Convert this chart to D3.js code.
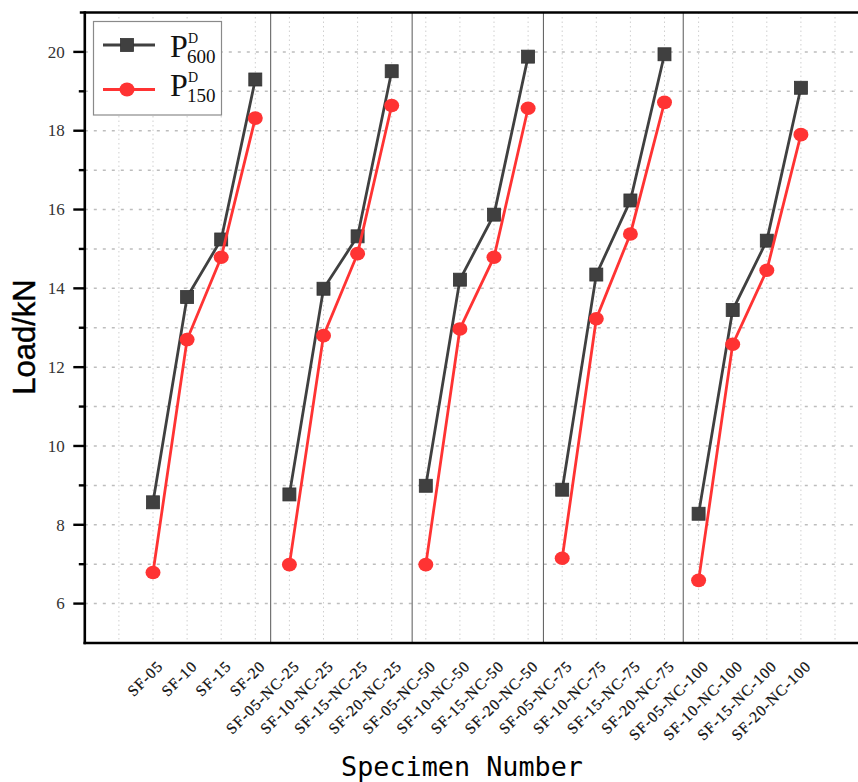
<!DOCTYPE html>
<html>
<head>
<meta charset="utf-8">
<script src="https://cdn.jsdelivr.net/npm/d3@7"></script>
<style>
  html, body { margin: 0; padding: 0; background: #fff; }
  svg { display: block; }
</style>
</head>
<body>
<div id="chart"></div>
<script>
// Specimen labels along the x axis (four specimens per NC group)
const categories = [
  "SF-05", "SF-10", "SF-15", "SF-20",
  "SF-05-NC-25", "SF-10-NC-25", "SF-15-NC-25", "SF-20-NC-25",
  "SF-05-NC-50", "SF-10-NC-50", "SF-15-NC-50", "SF-20-NC-50",
  "SF-05-NC-75", "SF-10-NC-75", "SF-15-NC-75", "SF-20-NC-75",
  "SF-05-NC-100", "SF-10-NC-100", "SF-15-NC-100", "SF-20-NC-100"
];

// Load values (kN)
const p600 = [
  8.57, 13.78, 15.24, 19.30,
  8.77, 13.99, 15.32, 19.51,
  8.99, 14.22, 15.87, 19.88,
  8.89, 14.35, 16.23, 19.94,
  8.28, 13.45, 15.21, 19.09
];
const p150 = [
  6.79, 12.70, 14.79, 18.32,
  6.99, 12.80, 14.88, 18.64,
  6.99, 12.97, 14.79, 18.57,
  7.15, 13.23, 15.38, 18.72,
  6.59, 12.58, 14.46, 17.90
];

const groupSize = 4;
// Vertical separators between specimen groups (x-axis units)
const groupSeparators = [4.45, 8.6, 12.45, 16.55];

const yMajorTicks = [6, 8, 10, 12, 14, 16, 18, 20];
const yMinorTicks = [7, 9, 11, 13, 15, 17, 19];
const yGridValues = [6, 7, 8, 9, 10, 11, 12, 13, 14, 15, 16, 17, 18, 19, 20];

const W = 858, H = 782;
const svg = d3.select("#chart").append("svg")
  .attr("width", W).attr("height", H);

const x = d3.scaleLinear().domain([-1, 22]).range([84.8, 869.1]);
const y = d3.scaleLinear().domain([5, 21]).range([643, 12.5]);

const pL = x(-1), pR = x(22), pT = y(21), pB = y(5);

// Grid
const grid = svg.append("g");
grid.selectAll("line.vg").data(d3.range(0, 22)).enter().append("line")
  .attr("x1", d => x(d)).attr("x2", d => x(d))
  .attr("y1", pT).attr("y2", pB)
  .attr("stroke", "#cfcfcf").attr("stroke-width", 1)
  .attr("stroke-dasharray", "1.5,3");
grid.selectAll("line.hg").data(yGridValues).enter().append("line")
  .attr("x1", pL).attr("x2", pR)
  .attr("y1", d => y(d)).attr("y2", d => y(d))
  .attr("stroke", "#bdbdbd").attr("stroke-width", 1.5)
  .attr("stroke-dasharray", "3,6");

// Group separators
svg.selectAll("line.sep").data(groupSeparators).enter().append("line")
  .attr("x1", d => x(d)).attr("x2", d => x(d))
  .attr("y1", pT).attr("y2", pB)
  .attr("stroke", "#666").attr("stroke-width", 1.1);

// Series
const series = [
  { name: "600", values: p600, color: "#404040", marker: "square" },
  { name: "150", values: p150, color: "#ff3333", marker: "circle" }
];

const line = d3.line().x(d => x(d.i + 1)).y(d => y(d.v));

series.forEach(s => {
  const pts = s.values.map((v, i) => ({ i, v }));
  const groups = d3.groups(pts, d => Math.floor(d.i / groupSize)).map(g => g[1]);
  const g = svg.append("g");
  g.selectAll("path").data(groups).enter().append("path")
    .attr("d", line).attr("fill", "none")
    .attr("stroke", s.color).attr("stroke-width", 2.8);
  if (s.marker === "square") {
    g.selectAll("rect").data(pts).enter().append("rect")
      .attr("x", d => x(d.i + 1) - 6.5).attr("y", d => y(d.v) - 6.5)
      .attr("width", 13).attr("height", 13)
      .attr("fill", s.color).attr("stroke", "#333").attr("stroke-width", 0.8);
  } else {
    g.selectAll("ellipse").data(pts).enter().append("ellipse")
      .attr("cx", d => x(d.i + 1)).attr("cy", d => y(d.v))
      .attr("rx", 7.5).attr("ry", 6.8)
      .attr("fill", s.color);
  }
});

// Frame: left, top and bottom axis lines
const frame = svg.append("g").attr("stroke", "#000").attr("stroke-width", 2.6);
frame.append("line").attr("x1", pL).attr("x2", pL).attr("y1", pT - 1.3).attr("y2", pB + 1.3);
frame.append("line").attr("x1", pL - 5).attr("x2", W).attr("y1", pT).attr("y2", pT);
frame.append("line").attr("x1", pL - 1.3).attr("x2", W).attr("y1", pB).attr("y2", pB);

// Y axis ticks and labels
svg.selectAll("line.ymaj").data(yMajorTicks).enter().append("line")
  .attr("x1", pL - 11.5).attr("x2", pL)
  .attr("y1", d => y(d)).attr("y2", d => y(d))
  .attr("stroke", "#000").attr("stroke-width", 2.4);
svg.selectAll("line.ymin").data(yMinorTicks).enter().append("line")
  .attr("x1", pL - 6).attr("x2", pL)
  .attr("y1", d => y(d)).attr("y2", d => y(d))
  .attr("stroke", "#000").attr("stroke-width", 2.4);
svg.selectAll("text.ylab").data(yMajorTicks).enter().append("text")
  .attr("x", pL - 20).attr("y", d => y(d))
  .attr("dy", "0.34em")
  .attr("text-anchor", "end")
  .attr("font-family", "'Liberation Serif', 'DejaVu Serif', serif")
  .attr("font-size", 17).attr("fill", "#333")
  .text(d => d);

// X axis category labels (rotated)
svg.selectAll("text.xlab").data(categories).enter().append("text")
  .attr("transform", (d, i) => `translate(${x(i + 1) + 11},${pB + 24}) rotate(-45)`)
  .attr("text-anchor", "end")
  .attr("font-family", "'Liberation Serif', 'DejaVu Serif', serif")
  .attr("font-size", 15.5).attr("letter-spacing", 1.0).attr("fill", "#111")
  .attr("stroke", "#111").attr("stroke-width", 0.25)
  .text(d => d);

// Axis titles
svg.append("text")
  .attr("transform", "translate(35,337) rotate(-90)")
  .attr("text-anchor", "middle")
  .attr("font-family", "'Liberation Sans', Arial, sans-serif")
  .attr("font-size", 31).attr("fill", "#000")
  .attr("stroke", "#000").attr("stroke-width", 0.4)
  .text("Load/kN");
svg.append("text")
  .attr("x", 462).attr("y", 776)
  .attr("text-anchor", "middle")
  .attr("font-family", "'DejaVu Sans Mono', monospace")
  .attr("font-size", 26.8).attr("fill", "#000")
  .text("Specimen Number");

// Legend
const legend = svg.append("g");
legend.append("rect")
  .attr("x", 93.5).attr("y", 21.5).attr("width", 128).attr("height", 93.5)
  .attr("fill", "#fff").attr("stroke", "#8a8a8a").attr("stroke-width", 1.2);
const legendRows = [
  { s: series[0], cy: 45, base: 57 },
  { s: series[1], cy: 89.5, base: 95.5 }
];
legendRows.forEach(r => {
  legend.append("line")
    .attr("x1", 103).attr("x2", 155).attr("y1", r.cy).attr("y2", r.cy)
    .attr("stroke", r.s.color).attr("stroke-width", 2.8);
  if (r.s.marker === "square") {
    legend.append("rect").attr("x", 127 - 6.5).attr("y", r.cy - 6.5)
      .attr("width", 13).attr("height", 13)
      .attr("fill", r.s.color).attr("stroke", "#333").attr("stroke-width", 0.8);
  } else {
    legend.append("ellipse").attr("cx", 127).attr("cy", r.cy)
      .attr("rx", 7.5).attr("ry", 7).attr("fill", r.s.color);
  }
  const t = legend.append("text")
    .attr("x", 170).attr("y", r.base)
    .attr("font-family", "'Liberation Serif', 'DejaVu Serif', serif")
    .attr("fill", "#111");
  t.append("tspan").attr("font-size", 32).text("P");
  t.append("tspan").attr("x", 188).attr("y", r.base - 14).attr("font-size", 14).text("D");
  t.append("tspan").attr("x", 187).attr("y", r.base + 6).attr("font-size", 19).text(r.s.name);
});
</script>
</body>
</html>
